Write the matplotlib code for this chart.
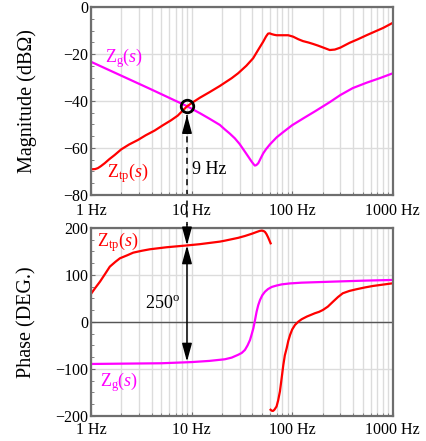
import matplotlib
import matplotlib.pyplot as plt
from matplotlib.ticker import FixedLocator, FixedFormatter, MultipleLocator, LogLocator, NullFormatter

matplotlib.use("Agg")

plt.rcParams["font.family"] = ["Liberation Serif", "DejaVu Serif"]
plt.rcParams["mathtext.fontset"] = "custom"
plt.rcParams["mathtext.rm"] = "Liberation Serif"
plt.rcParams["mathtext.it"] = "Liberation Serif:italic"

# magnitude, Zg(s)
zg_mag_f = [1.0, 3.85, 8.8, 12.1, 15.0, 19.1, 21.4, 24.0, 26.9, 30.0, 33.9, 37.0, 39.5, 41.5, 42.6, 44.0, 46.0, 48.5, 51.5,
            55.0, 60.0, 70.0, 80.0, 100, 130, 170, 236, 300, 400, 550, 750, 1000]
zg_mag = [-23.3, -34.8, -42.0, -45.2, -47.5, -50.2, -52.1, -53.9, -55.9, -58.3, -61.6, -64.0, -65.8, -67.0, -67.5, -67.3, -66.5,
          -64.5, -62.3, -60.5, -58.5, -55.5, -53.5, -50.3, -47.3, -44.3, -40.5, -37.5, -34.5, -32.2, -30.2, -28.2]

# magnitude, Ztp(s)
ztp_mag_f = [1.0, 1.1, 1.17, 1.25, 1.37, 1.52, 1.72, 2.0, 2.4, 2.93, 3.5, 4.29, 5.2, 6.26, 7.3, 8.2, 9.0, 10.0, 12.1, 15.0, 19.1,
             21.4, 25.0, 29.0, 35.0, 40.9, 45.8, 51.4, 55.0, 57.6, 60.0, 62.2, 66.0, 69.9, 80.0, 91.2, 102, 115,
             128, 145, 161, 180, 202, 236, 265, 300, 373, 450, 548, 650, 800, 1000]
ztp_mag = [-69.1, -69.0, -68.6, -67.8, -66.5, -64.8, -63.0, -60.6, -58.5, -56.6, -54.6, -52.6, -50.3, -48.2, -46.2, -44.0, -42.3,
           -40.9, -38.6, -36.3, -33.6, -32.2, -30.3, -28.2, -25.0, -21.8, -18.3, -14.8, -12.5, -11.3, -11.2, -11.5, -11.8,
           -12.0, -12.0, -12.0, -12.6, -13.7, -14.5, -15.1, -15.7, -16.4, -17.2, -18.3, -18.1, -17.3, -15.2, -13.7, -12.0,
           -10.6, -8.9, -6.7]

# phase, Ztp(s) (two branches)
ztp_ph_f1 = [1.0, 1.1, 1.23, 1.38, 1.54, 1.75, 1.94, 2.3, 2.63, 3.2, 3.85, 5.64, 8.9, 12.0, 19.1, 21.4, 29.0, 33.9, 40.0,
             44.3, 47.5, 49.8, 52.0, 53.7, 55.5, 57.6, 59.5, 61.0]
ztp_ph1 = [59.6, 72.0, 85.8, 102.0, 117.7, 128.0, 135.5, 142.0, 147.5, 151.5, 154.7, 159.0, 162.8, 165.5, 171.0, 173.0, 179.0,
           183.0, 188.0, 191.5, 193.8, 194.5, 193.5, 191.5, 187.0, 180.0, 173.0, 167.4]
ztp_ph_f2 = [61.0, 62.5, 64.5, 66.5, 69.9, 72.5, 75.5, 78.5, 81.6, 84.5, 88.1, 91.5, 95.2, 100, 106.6, 115, 124, 140, 168, 185,
             202, 226, 254, 285, 318, 370, 433, 530, 636, 800, 1000]
ztp_ph2 = [-187, -189, -189.5, -187, -180, -167, -148, -120, -91.5, -71, -56, -40, -27.7, -16, -6.4, 0.5, 5.7, 11.5, 18.5, 21.5,
           25.5, 32.6, 43, 53, 61, 66, 69.5, 73.5, 76.6, 79.5, 82.3]

# phase, Zg(s)
zg_ph_f = [1.0, 5.0, 10.0, 15.0, 21.4, 25.0, 29.0, 31.5, 33.9, 36.0, 38.1, 39.6, 41.1, 42.7, 44.3, 46.0, 47.9, 50.5, 53.7, 57.5,
           62.6, 70.0, 78.8, 95.0, 124, 254, 500, 1000]
zg_ph = [-89.5, -88.0, -85.5, -83.0, -79.5, -76.0, -70.0, -66.0, -59.6, -50.0, -38.3, -26.0, -13.5, 4.0, 22.0, 36.0, 46.8, 57.0,
         64.5, 70.0, 74.5, 77.5, 80.0, 82.0, 83.6, 85.8, 87.8, 89.4]

xticks = [1, 10, 100, 1000]
xticklabels = ["1 Hz", "10 Hz", "100 Hz", "1000 Hz"]

f_cross = 9.0
mag_cross = -42.1
ph_top = 163.0
ph_bot = -84.5

RED = "#ff0000"
MAG = "#ff00ff"
SPINE = "#6e6e6e"
GRID = "#dcdcdc"

fig = plt.figure(figsize=(4.27, 4.41), dpi=100)
ax1 = fig.add_axes([0.213, 0.558, 0.707, 0.426])
ax2 = fig.add_axes([0.213, 0.057, 0.707, 0.426])


def style_axis(ax):
    ax.set_xscale("log")
    ax.set_xlim(1, 1000)
    ax.xaxis.set_major_locator(FixedLocator(xticks))
    ax.xaxis.set_major_formatter(FixedFormatter(xticklabels))
    ax.xaxis.set_minor_locator(LogLocator(base=10, subs=range(2, 10)))
    ax.xaxis.set_minor_formatter(NullFormatter())
    ax.grid(which="both", axis="x", color=GRID, lw=1.0)
    ax.grid(which="major", axis="y", color=GRID, lw=1.0)
    ax.set_axisbelow(True)
    for s in ax.spines.values():
        s.set_color(SPINE)
        s.set_linewidth(1.6)
    ax.tick_params(which="both", direction="in", color=SPINE, labelsize=11.5, pad=2)
    ax.tick_params(axis="x", pad=4.5)
    ax.tick_params(which="major", length=3)
    ax.tick_params(which="minor", length=2)


style_axis(ax1)
ax1.tick_params(axis="x", pad=6)
ax1.plot(zg_mag_f, zg_mag, color=MAG, lw=1.6)
ax1.plot(ztp_mag_f, ztp_mag, color=RED, lw=1.6)
ax1.set_ylim(-80, 0)
ax1.yaxis.set_major_locator(MultipleLocator(20))
ax1.yaxis.set_minor_locator(MultipleLocator(5))
ax1.set_ylabel("Magnitude (dB\u03a9)", fontsize=14.5)
ax1.yaxis.set_label_coords(-0.18, 0.5)

ax1.plot([f_cross], [mag_cross], "o", ms=9, mfc="none", mec="black", mew=2, zorder=5)
ax1.plot([f_cross, f_cross], [-46, -93], ls=(0, (4, 3)), color="black", lw=1.1, clip_on=False)
ax1.annotate("", xy=(f_cross, -44.8), xytext=(f_cross, -55),
             arrowprops=dict(arrowstyle="-|>,head_length=1.1,head_width=0.3", color="black", lw=1.1, mutation_scale=10))
ax1.text(1.38, -21.6, r"$\mathrm{Z}_{\mathrm{g}}(s)$", color=MAG, fontsize=13, va="center")
ax1.text(1.44, -70.6, r"$\mathrm{Z}_{\mathrm{tp}}(s)$", color=RED, fontsize=13, va="center")
ax1.text(10.1, -69, "9 Hz", fontsize=13, va="center")

style_axis(ax2)
ax2.axhline(0, color="#555555", lw=1.0, zorder=1)
ax2.plot(zg_ph_f, zg_ph, color=MAG, lw=1.6)
ax2.plot(ztp_ph_f1, ztp_ph1, color=RED, lw=1.6)
ax2.plot(ztp_ph_f2, ztp_ph2, color=RED, lw=1.6)
ax2.set_ylim(-200, 200)
ax2.yaxis.set_major_locator(MultipleLocator(100))
ax2.yaxis.set_minor_locator(MultipleLocator(25))
ax2.set_ylabel("Phase (DEG.)", fontsize=14.5)
ax2.yaxis.set_label_coords(-0.18, 0.5)

arrow = "-|>,head_length=1.1,head_width=0.3"
ax2.annotate("", xy=(f_cross, ph_top), xytext=(f_cross, 207), annotation_clip=False,
             arrowprops=dict(arrowstyle=arrow, color="black", lw=1.1, mutation_scale=10, shrinkA=0, shrinkB=0))
ax2.annotate("", xy=(f_cross, ph_top), xytext=(f_cross, ph_bot),
             arrowprops=dict(arrowstyle="<|-|>,head_length=1.1,head_width=0.3", color="black", lw=1.1,
                             mutation_scale=10, shrinkA=0, shrinkB=0))
ax2.text(1.15, 170, r"$\mathrm{Z}_{\mathrm{tp}}(s)$", color=RED, fontsize=13, va="center")
ax2.text(3.44, 40, r"$250^{\mathrm{o}}$", fontsize=13, va="center")
ax2.text(1.23, -128, r"$\mathrm{Z}_{\mathrm{g}}(s)$", color=MAG, fontsize=13, va="center")

fig.savefig("out.png", dpi=100)
plt.close(fig)
